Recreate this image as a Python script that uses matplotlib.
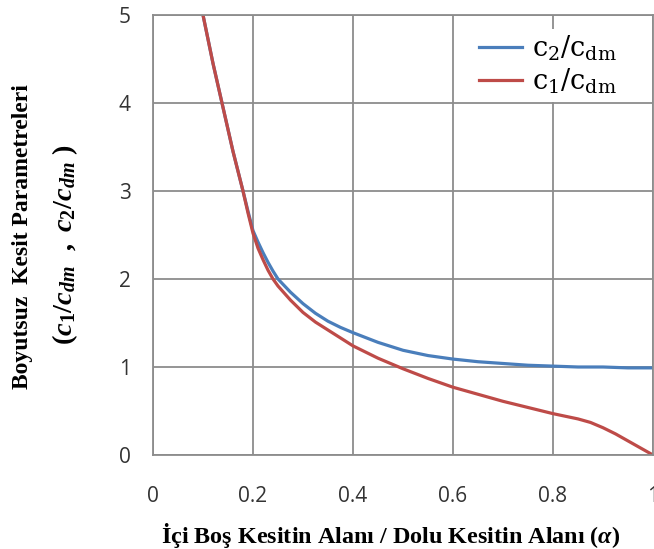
import matplotlib
matplotlib.use("Agg")
import matplotlib.pyplot as plt

# values
alpha_c2 = [0.10, 0.12, 0.14, 0.16, 0.18, 0.19, 0.20, 0.21, 0.22, 0.23, 0.24,
            0.25, 0.275, 0.30, 0.325, 0.35, 0.375, 0.40, 0.45, 0.50, 0.55,
            0.60, 0.65, 0.70, 0.75, 0.80, 0.85, 0.90, 0.95, 1.00]
c2_cdm = [5.00, 4.45, 3.95, 3.45, 3.00, 2.77, 2.55, 2.42, 2.30, 2.19, 2.09,
          2.00, 1.85, 1.72, 1.61, 1.52, 1.45, 1.39, 1.28, 1.19, 1.13,
          1.09, 1.06, 1.04, 1.02, 1.01, 1.00, 1.00, 0.99, 0.99]

alpha_c1 = [0.10, 0.12, 0.14, 0.16, 0.18, 0.19, 0.20, 0.21, 0.22, 0.23, 0.24,
            0.25, 0.275, 0.30, 0.325, 0.35, 0.375, 0.40, 0.45, 0.50, 0.55,
            0.60, 0.65, 0.70, 0.75, 0.80, 0.825, 0.85, 0.875, 0.90, 0.925,
            0.95, 0.975, 1.00]
c1_cdm = [5.00, 4.45, 3.95, 3.45, 3.00, 2.75, 2.52, 2.35, 2.22, 2.10, 2.00,
          1.92, 1.76, 1.62, 1.51, 1.42, 1.33, 1.24, 1.10, 0.98, 0.87,
          0.77, 0.69, 0.61, 0.54, 0.47, 0.44, 0.41, 0.37, 0.31, 0.24,
          0.16, 0.08, 0.00]

x_ticks = [0, 0.2, 0.4, 0.6, 0.8, 1]
x_tick_labels = ['0', '0.2', '0.4', '0.6', '0.8', '1']
y_ticks = [0, 1, 2, 3, 4, 5]

plt.rcParams['mathtext.fontset'] = 'custom'
plt.rcParams['mathtext.rm'] = 'Liberation Serif:bold'
plt.rcParams['mathtext.it'] = 'Liberation Serif:italic:bold'
plt.rcParams['mathtext.bf'] = 'Liberation Serif:bold'
plt.rcParams['mathtext.sf'] = 'DejaVu Serif'

blue = '#4a7ebb'
red = '#be4b48'
gridcol = '#8c8c8c'

fig = plt.figure(figsize=(6.54, 5.49), dpi=100)
ax = fig.add_axes([153 / 654, 94 / 549, 500 / 654, 440 / 549])

l2, = ax.plot(alpha_c2, c2_cdm, color=blue, lw=2.3, solid_joinstyle='round')
l1, = ax.plot(alpha_c1, c1_cdm, color=red, lw=2.3, solid_joinstyle='round')

ax.set_xlim(0, 1)
ax.set_ylim(0, 5)
ax.set_xticks(x_ticks)
ax.set_xticklabels(x_tick_labels)
ax.set_yticks(y_ticks)
ax.grid(True, color=gridcol, lw=1.3)
ax.set_axisbelow(True)
for s in ax.spines.values():
    s.set_color(gridcol)
    s.set_linewidth(1.3)
ax.tick_params(length=0, labelsize=15, labelcolor='#333333')
ax.tick_params(axis='x', pad=22)
ax.tick_params(axis='y', pad=16)
for lab in ax.get_xticklabels() + ax.get_yticklabels():
    lab.set_family('Open Sans')

leg = ax.legend([l2, l1], [r'$\mathsf{c_2/c_{dm}}$', r'$\mathsf{c_1/c_{dm}}$'],
                loc='upper right', bbox_to_anchor=(0.965, 1.0), fontsize=19.5,
                frameon=True, framealpha=1, facecolor='white', edgecolor='none',
                fancybox=False, handlelength=1.6, handletextpad=0.35,
                labelspacing=0.12, borderpad=0.2)

fig.text(23 / 654, 1 - 237 / 549, 'Boyutsuz  Kesit Parametreleri',
         rotation=90, ha='center', va='center', family='Liberation Serif',
         weight='bold', fontsize=17)
fig.text(65 / 654, 1 - 245 / 549,
         r'$(c_1/c_{dm}\ \ ,\ c_2/c_{dm}\ )$',
         rotation=90, ha='center', va='center', family='Liberation Serif',
         weight='bold', fontsize=20.5)
fig.text(391 / 654, 1 - 535 / 549,
         'İçi Boş Kesitin Alanı / Dolu Kesitin Alanı ($\\alpha$)',
         ha='center', va='center', family='Liberation Serif',
         weight='bold', fontsize=17.4)

fig.savefig('out.png', dpi=100)
